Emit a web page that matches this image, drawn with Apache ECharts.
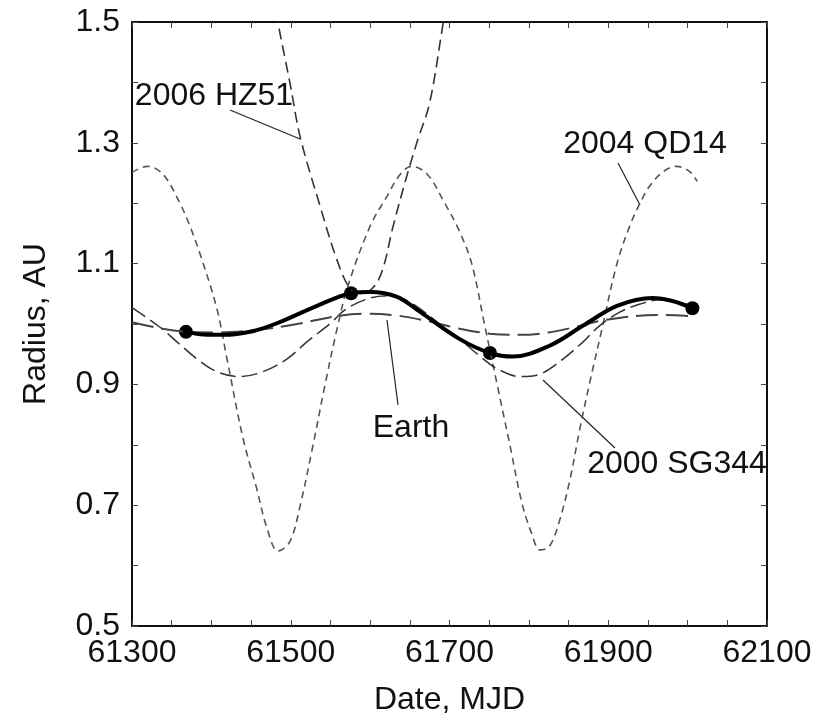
<!DOCTYPE html>
<html>
<head>
<meta charset="utf-8">
<title>Radius vs Date</title>
<script src="https://cdn.jsdelivr.net/npm/echarts@6/dist/echarts.min.js"></script>
<style>
    html, body { margin: 0; padding: 0; background: #fff; }
    #chart { width: 821px; height: 721px; }
</style>
</head>
<body>
<div id="chart"></div>
<script>
// 数据 [MJD, AU]

// 轨迹 (粗实线)
const trajectory = [
    [61368, 0.987], [61395, 0.982], [61415, 0.982], [61452, 0.988], [61486, 1.003],
    [61533, 1.030], [61576, 1.051], [61600, 1.053], [61634, 1.045], [61663, 1.020],
    [61713, 0.975], [61751, 0.952], [61780, 0.946], [61826, 0.964], [61868, 0.997],
    [61911, 1.030], [61956, 1.043], [61981, 1.038], [62006, 1.026]
];

// 轨迹上的节点
const nodes = [[61368, 0.987], [61576, 1.051], [61751, 0.952], [62006, 1.026]];

const earth = [
    [61300, 1.003], [61339, 0.992], [61369, 0.987], [61405, 0.986], [61440, 0.988],
    [61470, 0.992], [61508, 1.000], [61558, 1.013], [61595, 1.017], [61634, 1.014],
    [61675, 1.004], [61710, 0.993], [61751, 0.984], [61790, 0.982], [61825, 0.986],
    [61855, 0.994], [61898, 1.007], [61961, 1.015], [62006, 1.013]
];

const sg344 = [
    [61300, 1.027], [61335, 0.995], [61357, 0.970], [61382, 0.942], [61407, 0.921],
    [61436, 0.913], [61465, 0.921], [61495, 0.942], [61520, 0.970], [61549, 1.000],
    [61570, 1.025], [61600, 1.043], [61625, 1.047], [61650, 1.036], [61688, 1.000],
    [61713, 0.975], [61738, 0.947], [61760, 0.926], [61789, 0.913], [61814, 0.917],
    [61843, 0.942], [61868, 0.970], [61889, 0.997], [61915, 1.020], [61940, 1.033],
    [61965, 1.040], [62006, 1.030]
];

const qd14 = [
    [61300, 1.251], [61319, 1.261], [61339, 1.248], [61360, 1.201], [61373, 1.162],
    [61386, 1.115], [61407, 1.025], [61420, 0.940], [61440, 0.810], [61457, 0.728],
    [61470, 0.662], [61484, 0.624], [61499, 0.640], [61512, 0.700], [61528, 0.799],
    [61543, 0.898], [61558, 0.990], [61572, 1.063], [61600, 1.162], [61621, 1.211],
    [61638, 1.248], [61652, 1.261], [61672, 1.248], [61694, 1.200], [61712, 1.155],
    [61728, 1.100], [61744, 1.000], [61760, 0.900], [61776, 0.800], [61791, 0.705],
    [61803, 0.655], [61814, 0.626], [61826, 0.632], [61839, 0.676], [61852, 0.744],
    [61864, 0.825], [61877, 0.905], [61893, 0.997], [61911, 1.100], [61927, 1.162],
    [61940, 1.200], [61952, 1.228], [61969, 1.252], [61986, 1.261], [62003, 1.252],
    [62012, 1.236]
];

const hz51 = [
    [61470, 1.600], [61484, 1.498], [61499, 1.399], [61512, 1.309], [61537, 1.195],
    [61558, 1.107], [61575, 1.058], [61590, 1.050], [61605, 1.062], [61616, 1.091],
    [61629, 1.162], [61646, 1.244], [61660, 1.305], [61675, 1.366], [61692, 1.498],
    [61700, 1.560]
];

const font = '"Liberation Sans", Arial, sans-serif';
const ink = '#111';

// 框线坐标轴
function frameAxis (position, showLabel) {
    return {
        type: 'value',
        position: position,
        axisLine: { show: true, onZero: false, lineStyle: { color: ink, width: 2 } },
        axisTick: { show: true, inside: true, length: 6, lineStyle: { color: '#444', width: 1 } },
        splitLine: { show: false },
        axisLabel: { show: showLabel, color: ink, fontSize: 32, fontFamily: font }
    };
}

const xBottom = Object.assign(frameAxis('bottom', true), {
    min: 61300, max: 62100, interval: 50,
    name: 'Date, MJD', nameLocation: 'middle', nameGap: 58,
    nameTextStyle: { color: ink, fontSize: 32, fontFamily: font }
});
xBottom.axisLabel.margin = 11;
xBottom.axisLabel.formatter = v => ((v - 61300) % 200 === 0 ? String(v) : '');

const xTop = Object.assign(frameAxis('top', false), { min: 61300, max: 62100, interval: 50 });

const yLeft = Object.assign(frameAxis('left', true), {
    min: 0.5, max: 1.5, interval: 0.1,
    name: 'Radius, AU', nameLocation: 'middle', nameGap: 80,
    nameTextStyle: { color: ink, fontSize: 32, fontFamily: font }
});
yLeft.axisLabel.margin = 12;
yLeft.axisLabel.formatter = v => (Math.round(v * 10) % 2 === 1 ? v.toFixed(1) : '');

const yRight = Object.assign(frameAxis('right', false), { min: 0.5, max: 1.5, interval: 0.1 });

function dashed (name, data, dash, width, color) {
    return {
        name: name,
        type: 'line',
        data: data,
        smooth: 0.35,
        showSymbol: false,
        silent: true,
        lineStyle: { color: color, width: width, type: dash }
    };
}

// 标注文字和引线
function note (text, x, y) {
    return {
        type: 'text', x: x, y: y,
        style: { text: text, fill: ink, fontSize: 32, fontFamily: font, align: 'center', verticalAlign: 'middle' }
    };
}
function leader (x1, y1, x2, y2) {
    return {
        type: 'line',
        shape: { x1: x1, y1: y1, x2: x2, y2: y2 },
        style: { stroke: '#222', lineWidth: 1.2 }
    };
}

const chart = echarts.init(document.getElementById('chart'), null, { renderer: 'canvas' });

chart.setOption({
    animation: false,
    backgroundColor: '#fff',
    grid: { left: 132, top: 22, right: 54, bottom: 93 },
    xAxis: [xBottom, xTop],
    yAxis: [yLeft, yRight],
    series: [
        dashed('2004 QD14', qd14, [7, 5], 1.6, '#555'),
        dashed('2006 HZ51', hz51, [11, 6], 1.6, '#333'),
        dashed('2000 SG344', sg344, [16, 6], 1.5, '#333'),
        dashed('Earth', earth, [22, 8], 2, '#444'),
        {
            name: 'Trajectory',
            type: 'line',
            data: trajectory,
            smooth: 0.35,
            showSymbol: false,
            silent: true,
            lineStyle: { color: '#000', width: 4 }
        },
        {
            name: 'Nodes',
            type: 'scatter',
            data: nodes,
            symbolSize: 14,
            silent: true,
            itemStyle: { color: '#000', opacity: 1 }
        }
    ],
    graphic: [
        note('2006 HZ51', 214, 96),
        leader(230, 110, 300, 139),
        note('2004 QD14', 645, 144),
        leader(618, 163, 640, 205),
        note('Earth', 411, 428),
        leader(387, 320, 398, 405),
        note('2000 SG344', 677, 464),
        leader(543, 380, 615, 448)
    ]
});
</script>
</body>
</html>
